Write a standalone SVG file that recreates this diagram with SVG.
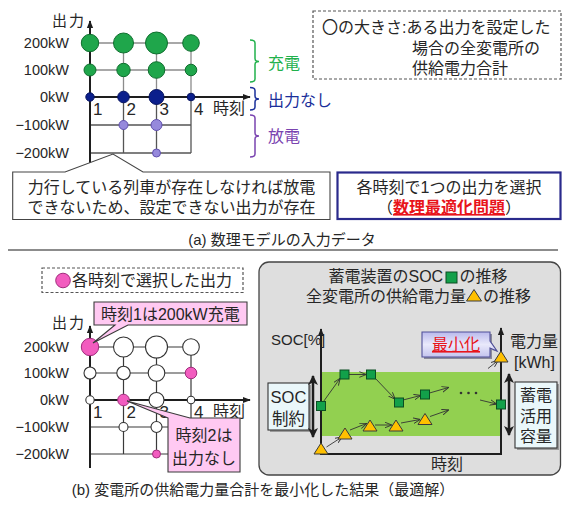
<svg xmlns="http://www.w3.org/2000/svg" xmlns:xlink="http://www.w3.org/1999/xlink" width="563" height="505" viewBox="0 0 563 505">
<style>
  text { font-family: "Liberation Sans", "Noto Sans CJK JP", sans-serif; fill: #262626; }
  .s14 { font-size: 14.5px; }
  .s15 { font-size: 15px; }
  .s16 { font-size: 16px; }
  .dg { font-size: 17px; }
  .end { text-anchor: end; }
  .mid { text-anchor: middle; }
  .gridU { stroke: #8c8c8c; stroke-width: 1.3; fill: none; }
  .gridL { stroke: #555; stroke-width: 1.3; fill: none; }
  .gridB { stroke: #3a3a3a; stroke-width: 1.2; fill: none; }
  .axis { stroke: #1e1e1e; stroke-width: 2; fill: none; }
  .g { fill: #1fa64b; stroke: #0f6e2e; stroke-width: 1; }
  .n { fill: #0b1f8c; stroke: #061360; stroke-width: 1; }
  .p { fill: #9689dc; stroke: #6150ae; stroke-width: 1; }
  .w { fill: #ffffff; stroke: #333; stroke-width: 1.1; }
  .k { fill: #f25cbf; stroke: #a02c7c; stroke-width: 1; }
  .thin { stroke: #333; stroke-width: 0.9; fill: none; marker-end: url(#oa); }
  .dash { fill: #fff; stroke: #555; stroke-width: 1.2; stroke-dasharray: 3 2; }
  .call { fill: #ffc9f2; stroke: #3a3a3a; stroke-width: 1.1; }
  .tri { fill: #ffc000; stroke: #3a3a3a; stroke-width: 1; }
  .sq { fill: #12a04a; stroke: #0a4d22; stroke-width: 1; }
</style>
<defs>
  <marker id="ax" viewBox="0 0 10 10" refX="9" refY="5" markerWidth="8" markerHeight="8" markerUnits="userSpaceOnUse" orient="auto">
    <path d="M0,1 L10,5 L0,9 Z" fill="#1e1e1e"/>
  </marker>
  <marker id="oa" viewBox="0 0 10 10" refX="9.5" refY="5" markerWidth="7" markerHeight="7" markerUnits="userSpaceOnUse" orient="auto">
    <path d="M0,1 L10,5 L0,9" fill="none" stroke="#333" stroke-width="1.3"/>
  </marker>
  <marker id="da" viewBox="0 0 10 10" refX="9" refY="5" markerWidth="10" markerHeight="10" markerUnits="userSpaceOnUse" orient="auto-start-reverse">
    <path d="M0,0 L10,5 L0,10 L2.5,5 Z" fill="#1e1e1e"/>
  </marker>
  <linearGradient id="lav" x1="0" y1="0" x2="0" y2="1">
    <stop offset="0" stop-color="#b9b9ec"/>
    <stop offset="0.5" stop-color="#e9e9fb"/>
    <stop offset="1" stop-color="#c4c4ee"/>
  </linearGradient>
  <path id="trp" d="M0,-6 L7,5 H-7 Z"/>
</defs>

<!-- ============ Panel (a) ============ -->
<g id="a-chart">
  <path class="gridU" d="M90,43 H191 M90,70 H191 M123.5,43 V97 M156.5,43 V97 M191,43 V97"/>
  <path class="gridL" d="M90,125 H191 M90,153 H191 M123.5,97 V153 M156.5,97 V153 M191,97 V153"/>
  <line class="axis" x1="90" y1="163" x2="90" y2="21" marker-end="url(#ax)"/>
  <line class="axis" x1="90" y1="97" x2="250" y2="97" marker-end="url(#ax)"/>
  <text class="s15" x="52" y="26" letter-spacing="2">出力</text>
  <text class="s14 end" x="69" y="48">200kW</text>
  <text class="s14 end" x="69" y="75">100kW</text>
  <text class="s14 end" x="69" y="102">0kW</text>
  <text class="s14 end" x="69" y="130">−100kW</text>
  <text class="s14 end" x="69" y="158">−200kW</text>
  <text class="dg" x="93" y="114.5">1</text>
  <text class="dg" x="126.5" y="114.5">2</text>
  <text class="dg" x="159.5" y="114.5">3</text>
  <text class="dg" x="194" y="114.5">4</text>
  <text class="s16" x="213" y="114">時刻</text>
  <circle class="g" cx="90" cy="43" r="8.7"/>
  <circle class="g" cx="123.5" cy="43" r="10"/>
  <circle class="g" cx="156.5" cy="43" r="11"/>
  <circle class="g" cx="191" cy="43" r="8.3"/>
  <circle class="g" cx="90" cy="70" r="6"/>
  <circle class="g" cx="123.5" cy="70" r="6.7"/>
  <circle class="g" cx="156.5" cy="70" r="8.3"/>
  <circle class="g" cx="191" cy="70" r="5.8"/>
  <circle class="n" cx="90" cy="97" r="4.2"/>
  <circle class="n" cx="123.5" cy="97" r="5.8"/>
  <circle class="n" cx="156.5" cy="97" r="7.5"/>
  <circle class="n" cx="191" cy="97" r="3.8"/>
  <circle class="p" cx="123.5" cy="125" r="4.5"/>
  <circle class="p" cx="156.5" cy="125" r="5.5"/>
  <circle class="p" cx="156.5" cy="153" r="4"/>
</g>

<g id="a-brackets">
  <path d="M250,40 Q255,40 255,43 V58.5 Q255,61.5 259,61.5 Q255,61.5 255,64.5 V79 Q255,82 250,82" fill="none" stroke="#22b14c" stroke-width="1.5"/>
  <text class="s16" x="268" y="69" style="fill:#22b14c">充電</text>
  <path d="M250,87.5 Q255,87.5 255,90.5 V96 Q255,99 259,99 Q255,99 255,102 V107 Q255,110 250,110" fill="none" stroke="#1a2f9a" stroke-width="1.5"/>
  <text class="s16" x="268" y="105.5" style="fill:#1a2f9a">出力なし</text>
  <path d="M250,115 Q255,115 255,118 V133 Q255,136 259,136 Q255,136 255,139 V154 Q255,157 250,157" fill="none" stroke="#7a44b0" stroke-width="1.5"/>
  <text class="s16" x="268" y="141.5" style="fill:#7a44b0">放電</text>
</g>

<g id="a-size-note">
  <rect class="dash" x="313" y="11" width="248" height="68"/>
  <text class="s16" x="322" y="33">〇の大きさ:ある出力を設定した</text>
  <text class="s16" x="412" y="54">場合の全変電所の</text>
  <text class="s16" x="412" y="74">供給電力合計</text>
</g>

<g id="a-note-left">
  <path d="M12.7,172 H65 L113,154 L143,172 H330 V219.5 H12.7 Z" fill="#fff" stroke="#444" stroke-width="1.1"/>
  <text class="s16 mid" x="171.5" y="193">力行している列車が存在しなければ放電</text>
  <text class="s16 mid" x="171.5" y="213">できないため、設定できない出力が存在</text>
</g>

<g id="a-note-right">
  <rect x="337.5" y="172.5" width="223" height="46.5" fill="#fff" stroke="#2a2a8c" stroke-width="2.2"/>
  <text class="s16 mid" x="449" y="193">各時刻で1つの出力を選択</text>
  <text class="s16 mid" x="449" y="213">（<tspan style="fill:#e8141b;font-weight:bold;text-decoration:underline">数理最適化問題</tspan>）</text>
</g>

<text id="a-caption" class="s15 mid" x="282" y="245">(a) 数理モデルの入力データ</text>

<line id="separator" x1="8" y1="250" x2="558" y2="250" stroke="#666" stroke-width="1.5"/>

<!-- ============ Panel (b) ============ -->
<g id="b-legend">
  <rect class="dash" x="42" y="268" width="201" height="24.5"/>
  <circle class="k" cx="63" cy="280.5" r="7.3"/>
  <text class="s16" x="72" y="286">各時刻で選択した出力</text>
</g>

<g id="b-chart">
  <path class="gridB" d="M90,347 H191 M90,373 H191 M90,427 H191 M90,454 H191 M123.5,347 V454 M156.5,347 V454 M191,347 V454"/>
  <line class="axis" x1="90" y1="468" x2="90" y2="326" marker-end="url(#ax)"/>
  <line class="axis" x1="90" y1="400" x2="250" y2="400" marker-end="url(#ax)"/>
  <text class="s15" x="52" y="328" letter-spacing="2">出力</text>
  <text class="s14 end" x="69" y="352">200kW</text>
  <text class="s14 end" x="69" y="378">100kW</text>
  <text class="s14 end" x="69" y="405">0kW</text>
  <text class="s14 end" x="69" y="432">−100kW</text>
  <text class="s14 end" x="69" y="459">−200kW</text>
  <text class="dg" x="93" y="417.5">1</text>
  <text class="dg" x="126.5" y="417.5">2</text>
  <text class="dg" x="159.5" y="417.5">3</text>
  <text class="dg" x="194" y="417.5">4</text>
  <text class="s16" x="213" y="417">時刻</text>
  <circle class="k" cx="90" cy="347" r="8.7"/>
  <circle class="w" cx="123.5" cy="347" r="10"/>
  <circle class="w" cx="156.5" cy="347" r="11"/>
  <circle class="w" cx="191" cy="347" r="8.3"/>
  <circle class="w" cx="90" cy="373" r="6"/>
  <circle class="w" cx="123.5" cy="373" r="6.7"/>
  <circle class="w" cx="156.5" cy="373" r="8.3"/>
  <circle class="k" cx="191" cy="373" r="5.8"/>
  <circle class="w" cx="90" cy="400" r="4.2"/>
  <circle class="k" cx="123.5" cy="400" r="5.8"/>
  <circle class="w" cx="156.5" cy="400" r="7.5"/>
  <circle class="w" cx="191" cy="400" r="3.8"/>
  <circle class="w" cx="123.5" cy="427" r="4.5"/>
  <circle class="w" cx="156.5" cy="427" r="5.5"/>
  <circle class="k" cx="156.5" cy="454" r="4"/>
</g>

<g id="b-callout1">
  <path class="call" d="M94,302 H247 V325 H128 L93,343 L115,325 H94 Z"/>
  <text class="s16" x="101" y="320">時刻1は200kW充電</text>
</g>

<g id="b-callout2">
  <path class="call" d="M168,418 L127,401 L190,418 H240 V472 H168 Z"/>
  <text class="s16 mid" x="204" y="441">時刻2は</text>
  <text class="s16 mid" x="204" y="464">出力なし</text>
</g>

<g id="b-right-panel">
  <rect x="259" y="262" width="301.5" height="213" rx="10" fill="#dedede" stroke="#444" stroke-width="1.3"/>
  <text class="s16" x="328.5" y="282">蓄電装置のSOC</text>
  <rect class="sq" x="446" y="272" width="11" height="11"/>
  <text class="s16" x="459.5" y="282">の推移</text>
  <text class="s16" x="306" y="302">全変電所の供給電力量</text>
  <path class="tri" d="M474,289.5 L481.5,301 H466.5 Z"/>
  <text class="s16" x="483" y="302">の推移</text>

  <rect x="322" y="372" width="179" height="64" fill="#92d050"/>
  <line class="axis" x1="321" y1="454" x2="321" y2="329" marker-end="url(#ax)"/>
  <line class="axis" x1="320" y1="454" x2="501" y2="454"/>
  <line class="axis" x1="501" y1="455" x2="501" y2="328" marker-end="url(#ax)"/>
  <text class="s15" x="271" y="345">SOC[%]</text>
  <text class="s16" x="510" y="347">電力量</text>
  <text class="s16" x="514" y="368">[kWh]</text>
  <text class="s16 mid" x="447" y="470">時刻</text>
</g>

<g id="b-soc-box">
  <rect x="270" y="385" width="41" height="47" fill="#9a9a9a"/>
  <rect x="268" y="383" width="41" height="47" fill="#eaf7fa" stroke="#333" stroke-width="1.1"/>
  <text class="mid" x="288.5" y="403" style="font-size:16.5px">SOC</text>
  <text class="mid" x="288.5" y="424.5" style="font-size:16.5px">制約</text>
  <line x1="313" y1="376" x2="313" y2="437" stroke="#1e1e1e" stroke-width="2.5" marker-start="url(#da)" marker-end="url(#da)"/>
</g>

<g id="b-capacity-box">
  <rect x="517" y="384" width="42" height="66" fill="#9a9a9a"/>
  <rect x="515" y="382" width="42" height="66" fill="#eaf7fa" stroke="#333" stroke-width="1.1"/>
  <text class="s16 mid" x="536" y="401">蓄電</text>
  <text class="s16 mid" x="536" y="422">活用</text>
  <text class="s16 mid" x="536" y="442">容量</text>
  <line x1="509" y1="374" x2="509" y2="435" stroke="#1e1e1e" stroke-width="2.5" marker-start="url(#da)" marker-end="url(#da)"/>
</g>

<g id="b-minimize">
  <path d="M424,334 H492 V343 L498,352 L492,350 V359 H424 Z" fill="#8a8a9a"/>
  <path d="M422,332 H490 V341 L497,351 L490,348 V357 H422 Z" fill="url(#lav)" stroke="#50509a" stroke-width="1.1"/>
  <text class="s16 mid" x="456" y="350" style="fill:#e8141b;text-decoration:underline">最小化</text>
</g>

<g id="connectors">
  <line class="thin" x1="323.5" y1="401.5" x2="340" y2="378.5"/>
  <line class="thin" x1="349" y1="374.5" x2="366" y2="374.5"/>
  <line class="thin" x1="375" y1="378" x2="395" y2="399"/>
  <line class="thin" x1="403" y1="400" x2="420.5" y2="395.5"/>
  <line class="thin" x1="429.5" y1="393" x2="448.5" y2="387.5"/>
  <line class="thin" x1="480" y1="400" x2="496.5" y2="404"/>
  <line class="thin" x1="326.5" y1="447" x2="342" y2="437"/>
  <line class="thin" x1="350" y1="430" x2="366.5" y2="423.5"/>
  <line class="thin" x1="375" y1="425" x2="391.5" y2="425"/>
  <line class="thin" x1="401" y1="423" x2="420" y2="419.5"/>
  <line class="thin" x1="430" y1="416.5" x2="448.5" y2="410"/>
  <line class="thin" x1="488" y1="368.5" x2="498" y2="360.5"/>
</g>

<g id="b-markers">
  <rect class="sq" x="316.5" y="401.5" width="9" height="9"/>
  <rect class="sq" x="340" y="370" width="9" height="9"/>
  <rect class="sq" x="366.5" y="370" width="9" height="9"/>
  <rect class="sq" x="394.5" y="398" width="9" height="9"/>
  <rect class="sq" x="420.5" y="390" width="9" height="9"/>
  <rect class="sq" x="496.5" y="400" width="9" height="9"/>
  <use href="#trp" class="tri" x="321" y="449"/>
  <use href="#trp" class="tri" x="345" y="434"/>
  <use href="#trp" class="tri" x="370" y="426"/>
  <use href="#trp" class="tri" x="396" y="426"/>
  <use href="#trp" class="tri" x="425" y="419.5"/>
  <use href="#trp" class="tri" x="501" y="357"/>
  <circle cx="461" cy="393" r="1.3" fill="#333"/>
  <circle cx="468.5" cy="393" r="1.3" fill="#333"/>
  <circle cx="476" cy="393" r="1.3" fill="#333"/>
</g>

<text id="b-caption" class="s15 mid" x="263" y="495">(b) 変電所の供給電力量合計を最小化した結果（最適解）</text>
</svg>
